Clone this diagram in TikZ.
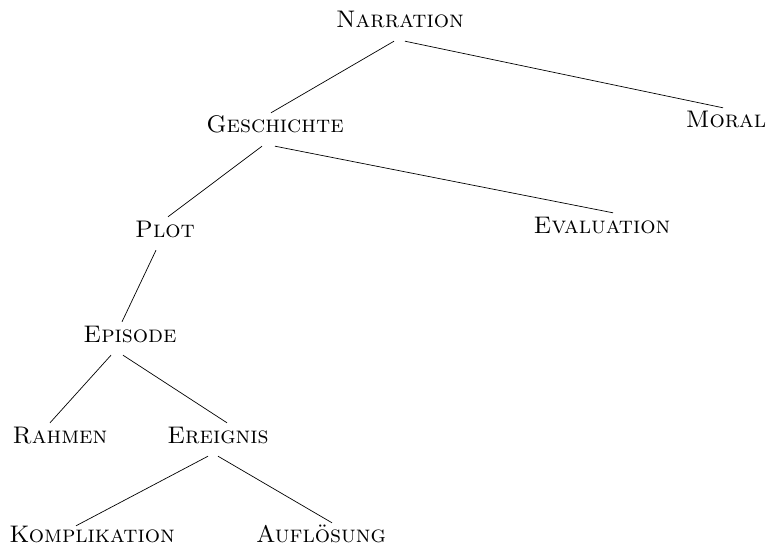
\documentclass[tikz,border=0pt]{standalone}
\usepackage{fontspec}
\usepackage{tikz}

\tikzset{
  term/.style={anchor=base,inner xsep=0pt,inner ysep=5pt,text height=15pt,text depth=8pt,
    font=\fontsize{24}{28}\selectfont\scshape},
  leaf/.style={term,inner ysep=1pt,text depth=0pt},
  branch/.style={line width=0.7pt}
}

\begin{document}
\begin{tikzpicture}[x=1pt,y=-1pt]
  \useasboundingbox (0,0) rectangle (767,548);
  \node[term] (nar) at (400,28) {Narration};
  \node[term] (ges) at (275,133) {Geschichte};
  \node[term] (mor) at (726,128) {Moral};
  \node[term] (plo) at (165,237) {Plot};
  \node[term] (eva) at (602,233) {Evaluation};
  \node[term] (epi) at (130,342) {Episode};
  \node[term] (rah) at (60,443) {Rahmen};
  \node[term] (ere) at (218,443) {Ereignis};
  \node[leaf] (kom) at (92,542) {Komplikation};
  \node[leaf] (auf) at (321,542) {Auflösung};
  \draw[branch] ([xshift=-6pt]nar.south) -- ([xshift=-4pt]ges.north);
  \draw[branch] ([xshift=5pt]nar.south) -- ([xshift=-3pt]mor.north);
  \draw[branch] ([xshift=-13pt]ges.south) -- ([xshift=3pt]plo.north);
  \draw[branch] (ges.south) -- ([xshift=11pt]eva.north);
  \draw[branch] ([xshift=-9pt]plo.south) -- ([xshift=-8pt]epi.north);
  \draw[branch] ([xshift=-19pt]epi.south) -- ([xshift=-10pt]rah.north);
  \draw[branch] ([xshift=-7pt]epi.south) -- ([xshift=9pt]ere.north);
  \draw[branch] ([xshift=-10pt]ere.south) -- ([xshift=-16pt]kom.north);
  \draw[branch] (ere.south) -- ([xshift=11pt,yshift=3pt]auf.north);
\end{tikzpicture}
\end{document}
